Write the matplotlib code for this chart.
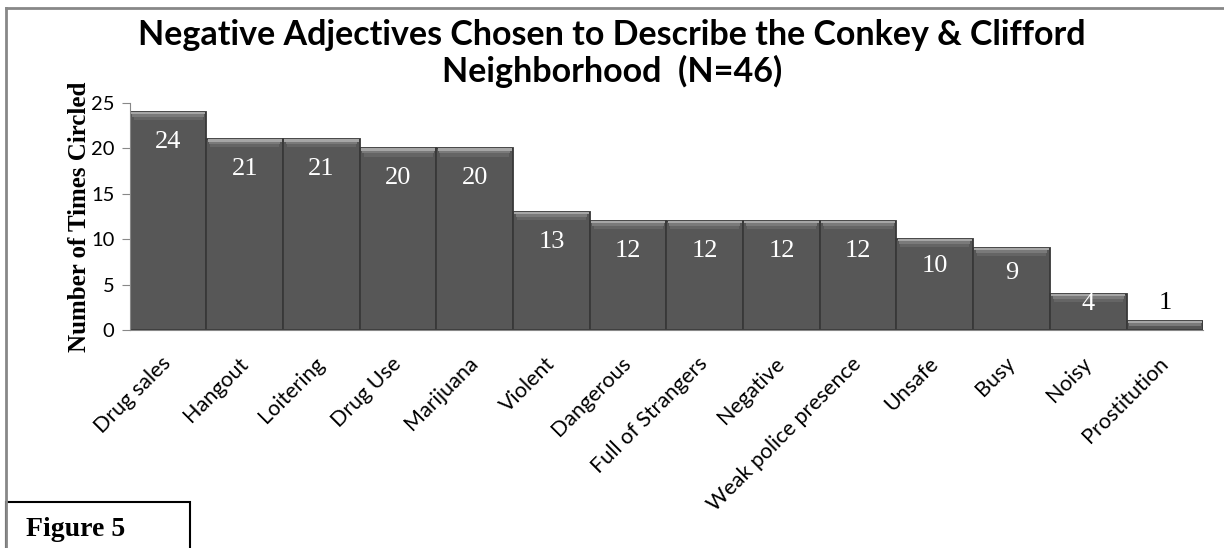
import matplotlib.pyplot as plt
from matplotlib.lines import Line2D
from matplotlib.patches import Rectangle

adjectives = ['Drug sales', 'Hangout', 'Loitering', 'Drug Use', 'Marijuana', 'Violent',
              'Dangerous', 'Full of Strangers', 'Negative', 'Weak police presence',
              'Unsafe', 'Busy', 'Noisy', 'Prostitution']
counts = [24, 21, 21, 20, 20, 13, 12, 12, 12, 12, 10, 9, 4, 1]
yticks = [0, 5, 10, 15, 20, 25]

sans = ['Lato', 'DejaVu Sans']
serif = ['Liberation Serif', 'DejaVu Serif']

fig = plt.figure(figsize=(12.24, 5.48), dpi=100)
ax = fig.add_axes([0.106, 0.398, 0.877, 0.414])

x = range(len(counts))
ax.bar(x, counts, width=1.0, color='#575757', edgecolor='#383838', linewidth=1.3)
# bevelled top: stacked lighter strips, brightest at the very top
for depth, shade, w in [(0.9, '#656565', 0.9), (0.55, '#7a7a7a', 0.93), (0.25, '#a6a6a6', 0.97)]:
    d = [min(depth, c * 0.6) for c in counts]
    ax.bar(x, d, bottom=[c - h for c, h in zip(counts, d)], width=w,
           color=shade, linewidth=0)

for i, c in enumerate(counts):
    if c >= 3:
        ax.text(i, c - min(3.3, 0.3 * c), str(c), ha='center', va='center',
                color='white', fontsize=19, family=serif)
    else:
        ax.text(i, c + 2, str(c), ha='center', va='center',
                color='black', fontsize=19, family=serif)

ax.set_xlim(-0.5, len(counts) - 0.5)
ax.set_ylim(0, 25)
ax.set_yticks(yticks)
ax.set_yticklabels([str(t) for t in yticks], family=sans, fontsize=14.5)
ax.set_xticks(list(x))
ax.set_xticklabels(adjectives, rotation=45, ha='right', va='center', rotation_mode='anchor',
                   family=sans, fontsize=15.5)
ax.tick_params(axis='x', length=0, pad=22)
ax.tick_params(axis='y', length=6, color='#888888', pad=5)
for s in ['top', 'right']:
    ax.spines[s].set_visible(False)
ax.spines['left'].set_color('#888888')
ax.spines['bottom'].set_color('#888888')
ax.set_ylabel('Number of Times Circled', family=serif, fontsize=18, fontweight='bold', labelpad=0)

fig.text(0.5, 0.903, 'Negative Adjectives Chosen to Describe the Conkey & Clifford\nNeighborhood  (N=46)',
         ha='center', va='center', family=sans, fontsize=24.5, fontweight='bold', linespacing=1.15)

# chart frame
fig.add_artist(Line2D([0.005, 1.0], [0.985, 0.985], color='#888888', lw=2))
fig.add_artist(Line2D([0.005, 0.005], [0.985, 0.0], color='#888888', lw=2))
fig.add_artist(Rectangle((0.005, -0.01), 0.15, 0.094, facecolor='white', edgecolor='black', lw=1.5))
fig.text(0.021, 0.033, 'Figure 5', family=serif, fontsize=20, fontweight='bold', va='center')

fig.savefig('out.png', dpi=100)
